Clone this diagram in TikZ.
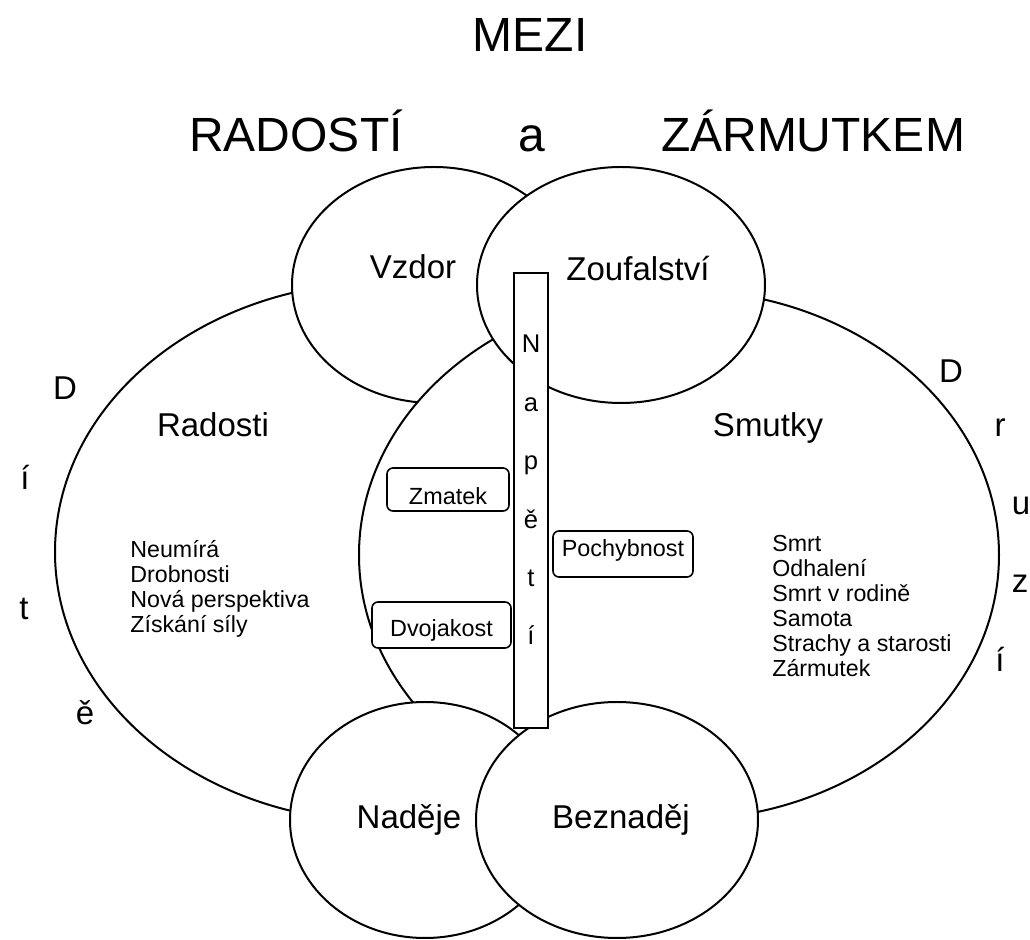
\documentclass[tikz,border=0pt]{standalone}
\usepackage{fontspec}
\setmainfont{Liberation Sans}
\usetikzlibrary{positioning,shapes.geometric}

\begin{document}
\begin{tikzpicture}[
    x=0.5pt, y=-0.5pt,
    oval/.style={
        draw,
        fill=white,
        ellipse,
        line width=1pt,
        inner sep=0pt
    },
    tag/.style={
        draw,
        fill=white,
        rounded corners=3pt,
        line width=0.8pt,
        inner sep=0pt,
        font=\fontsize{11.7}{12}\selectfont
    },
    head/.style={anchor=base, font=\fontsize{24}{28}\selectfont},
    word/.style={anchor=base, font=\fontsize{16.5}{20}\selectfont},
    item/.style={anchor=base west, inner sep=0pt, font=\fontsize{11.6}{12}\selectfont}
]
\useasboundingbox (0,0) rectangle (1030,940);

% title
\node[head] (mezi) at (530,52) {MEZI};
\node[head] (radost) at (296,152) {RADOSTÍ};
\node[head] (spojka) at (532,152) {a};
\node[head] (zarmutek) at (813,152) {ZÁRMUTKEM};

% ovals, drawn back to front
\node[oval, minimum width=330pt, minimum height=270pt] (radosti) at (385,552) {};
\node[oval, minimum width=142pt, minimum height=118pt] (vzdor) at (434,285) {};
\node[oval, minimum width=320pt, minimum height=265pt] (smutky) at (679,555) {};
\node[oval, minimum width=144pt, minimum height=118pt] (zoufalstvi) at (621,285) {};
\node[oval, minimum width=135pt, minimum height=118pt] (nadeje) at (425,820) {};
\node[oval, minimum width=141pt, minimum height=118pt] (beznadej) at (617,820) {};

\node[word] (tvzdor) at (413,279) {Vzdor};
\node[word] (tzoufalstvi) at (638,281) {Zoufalství};
\node[word] (tradosti) at (213,437) {Radosti};
\node[word] (tsmutky) at (768,437) {Smutky};
\node[word] (tnadeje) at (409,829) {Naděje};
\node[word] (tbeznadej) at (621,829) {Beznaděj};

% the bar in the middle
\node[draw, fill=white, line width=0.8pt, inner sep=0pt,
      minimum width=17pt, minimum height=227.5pt] (napeti) at (531,500.5) {};
\foreach \c [count=\i] in {N,a,p,ě,t,í}
    \node[anchor=base, font=\fontsize{12.8}{14}\selectfont] (nap\i) at (531,{353+58.4*(\i-1)}) {\c};

% boxes
\node[tag, minimum width=61pt, minimum height=21.5pt, text height=15.5pt, text depth=0pt] (zmatek) at (448,489.5) {Zmatek};
\node[tag, minimum width=69.5pt, minimum height=23pt, text height=12pt, text depth=0pt] (dvojakost) at (441.5,625) {Dvojakost};
\node[tag, minimum width=70pt, minimum height=23pt, text height=5pt, text depth=2pt] (pochybnost) at (623,554) {Pochybnost};

% lists
\foreach \t [count=\i] in {Neumírá, Drobnosti, Nová perspektiva, Získání síly}
    \node[item] (joy\i) at (130,{558+24.7*(\i-1)}) {\t};
\foreach \t [count=\i] in {Smrt, Odhalení, Smrt v rodině, Samota, Strachy a starosti, Zármutek}
    \node[item] (woe\i) at (772,{552+24.9*(\i-1)}) {\t};

% side words
\foreach \c/\x/\y [count=\i] in {D/65/400, í/25/490, t/24/620, ě/85/725}
    \node[word] (dite\i) at (\x,\y) {\c};
\foreach \c/\x/\y [count=\i] in {D/951/383, r/1000/437, u/1021/515, z/1020/593, í/1000/672}
    \node[word] (druzi\i) at (\x,\y) {\c};
\end{tikzpicture}
\end{document}
